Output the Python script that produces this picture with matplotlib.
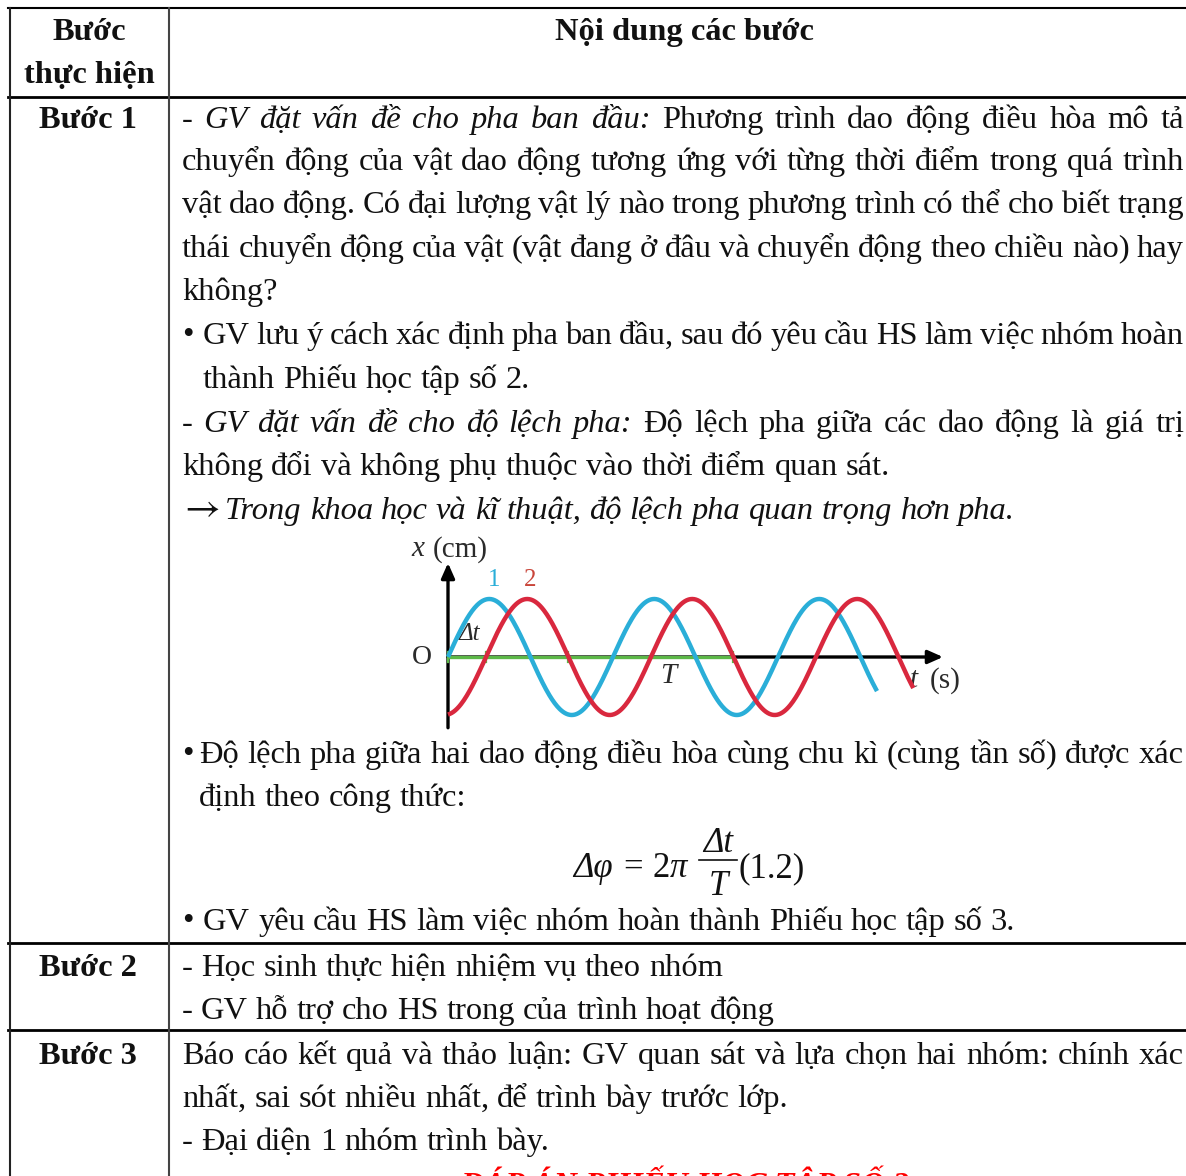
"""Lesson-plan table page (Vietnamese) with the phase-shift sketch, redrawn."""

import matplotlib

matplotlib.use("Agg")
import matplotlib.pyplot as plt
import numpy as np
from matplotlib.font_manager import FontProperties

W, H = 1186, 1176
FS = 23.4
SERIF = ["Liberation Serif", "DejaVu Serif"]
INK = "#111111"

# ---- table text ---------------------------------------------------------
HEADER_LEFT = ["Bước", "thực hiện"]
HEADER_RIGHT = "Nội dung các bước"
STEPS = ["Bước 1", "Bước 2", "Bước 3"]

# each line: list of (text, style) ; style n=normal, i=italic, a=arrow glyph
ROW1_TEXT = [
    [("- GV đặt vấn đề cho pha ban đầu:", "i"), ("Phương trình dao động điều hòa mô tả", "n")],
    [("chuyển động của vật dao động tương ứng với từng thời điểm trong quá trình", "n")],
    [("vật dao động. Có đại lượng vật lý nào trong phương trình có thể cho biết trạng", "n")],
    [("thái chuyển động của vật (vật đang ở đâu và chuyển động theo chiều nào) hay", "n")],
    [("không?", "n")],
    [("GV lưu ý cách xác định pha ban đầu, sau đó yêu cầu HS làm việc nhóm hoàn", "n")],
    [("thành Phiếu học tập số 2.", "n")],
    [("- GV đặt vấn đề cho độ lệch pha:", "i"), ("Độ lệch pha giữa các dao động là giá trị", "n")],
    [("không đổi và không phụ thuộc vào thời điểm quan sát.", "n")],
    [("Trong khoa học và kĩ thuật, độ lệch pha quan trọng hơn pha.", "i")],
    [("Độ lệch pha giữa hai dao động điều hòa cùng chu kì (cùng tần số) được xác", "n")],
    [("định theo công thức:", "n")],
    [("GV yêu cầu HS làm việc nhóm hoàn thành Phiếu học tập số 3.", "n")],
]
ROW2_TEXT = [
    [("- Học sinh thực hiện nhiệm vụ theo nhóm", "n")],
    [("- GV hỗ trợ cho HS trong của trình hoạt động", "n")],
]
ROW3_TEXT = [
    [("Báo cáo kết quả và thảo luận: GV quan sát và lựa chọn hai nhóm: chính xác", "n")],
    [("nhất, sai sót nhiều nhất, để trình bày trước lớp.", "n")],
    [("- Đại diện 1 nhóm trình bày.", "n")],
]
ANSWER_TITLE = "ĐÁP ÁN PHIẾU HỌC TẬP SỐ 2"

# layout per line: (left x, baseline y, justified, bullet)
ROW1_LAYOUT = [
    (182, 128, True, False), (182, 170, True, False), (182, 213, True, False),
    (182, 257, True, False), (182, 300, False, False), (203, 344, True, True),
    (203, 388, False, False), (182, 432, True, False), (182, 475, False, False),
    (225, 519, False, False), (199, 763, True, True), (199, 806, False, False),
    (203, 930, False, True),
]
ROW2_LAYOUT = [(182, 976, False, False), (182, 1019, False, False)]
ROW3_LAYOUT = [(182, 1064, True, False), (182, 1107, False, False), (182, 1150, False, False)]

# ---- oscillation sketch (units: period T on t, amplitude on x) ----------
PERIOD = 1.0
LAG = 0.23            # delay of curve 2 behind curve 1
AMPLITUDE = 1.0
T_END = [2.60, 2.82]  # where curve 1 and curve 2 stop
CURVE_LABELS = ["1", "2"]
CURVE_COLORS = ["#2aaed8", "#d9283e"]
GREEN_MARKS = [0.0, LAG, LAG + 0.5, LAG + 1.5]

fig = plt.figure(figsize=(W / 100, H / 100), dpi=100)
ax = fig.add_axes([0, 0, 1, 1])
ax.set_xlim(0, W)
ax.set_ylim(H, 0)
ax.axis("off")
renderer = fig.canvas.get_renderer()


def fp(style, size=FS):
    return FontProperties(family=SERIF, size=size,
                          style="italic" if "i" in style else "normal",
                          weight="bold" if "b" in style else "normal")


def width(s, style, size=FS):
    return renderer.get_text_width_height_descent(s, fp(style, size), ismath=False)[0]


def put_line(x0, y, segs, justify, x1=1184):
    words = [(w, st) for txt, st in segs for w in txt.split()]
    wd = [width(w, st) for w, st in words]
    if justify and len(words) > 1:
        gap = (x1 - x0 - sum(wd)) / (len(words) - 1)
    else:
        gap = width("a a", "n") - width("aa", "n")
    x = x0
    for (w, st), d in zip(words, wd):
        ax.text(x, y, w, fontproperties=fp(st), color=INK, va="baseline", ha="left")
        x += d + gap


# grid lines
lw = 1.5
ax.plot([8, W], [8, 8], color="black", lw=lw)
for yy in (97, 943, 1030):
    ax.plot([8, W], [yy, yy], color="black", lw=lw + 0.5)
ax.plot([9.5, 9.5], [8, H], color="#222222", lw=lw)
ax.plot([168.5, 168.5], [8, H], color="#444444", lw=lw)

# header
for txt, y in zip(HEADER_LEFT, (40, 83)):
    ax.text(89, y, txt, fontproperties=fp("b"), ha="center", va="baseline", color=INK)
ax.text(684, 40, HEADER_RIGHT, fontproperties=fp("b"), ha="center", va="baseline", color=INK)
for txt, y in zip(STEPS, (128, 976, 1064)):
    ax.text(88, y, txt, fontproperties=fp("b"), ha="center", va="baseline", color=INK)

for texts, layout in ((ROW1_TEXT, ROW1_LAYOUT), (ROW2_TEXT, ROW2_LAYOUT), (ROW3_TEXT, ROW3_LAYOUT)):
    for segs, (x0, y, just, bullet) in zip(texts, layout):
        if bullet:
            ax.text(188, y - 1, "•", fontproperties=fp("n"), ha="center", va="baseline", color=INK)
        put_line(x0, y, segs, just)

# arrow glyph before the italic remark
ax.text(184, 519, "→", family=["STIXGeneral", "DejaVu Serif"], fontsize=28,
        va="baseline", ha="left", color=INK)

# formula  Δφ = 2π Δt/T (1.2)
FF = 25
fy = 877
ax.text(573, fy, "Δφ", fontproperties=fp("i", FF), va="baseline", color=INK)
ax.text(633, fy, "=", fontproperties=fp("n", FF), va="baseline", ha="center", color=INK)
ax.text(653, fy, "2", fontproperties=fp("n", FF), va="baseline", color=INK)
ax.text(653 + width("2", "n", FF), fy, "π", fontproperties=fp("i", FF), va="baseline", color=INK)
ax.text(718, 852, "Δt", fontproperties=fp("i", FF), va="baseline", ha="center", color=INK)
ax.plot([699, 737], [860, 860], color=INK, lw=1.2)
ax.text(718, 895, "T", fontproperties=fp("i", FF), va="baseline", ha="center", color=INK)
ax.text(738, fy, "(1.2)", fontproperties=fp("n", FF), va="baseline", color=INK)

# red answer title, cut by the page edge
ax.text(685, 1194, ANSWER_TITLE, fontproperties=fp("bi"), ha="center", va="baseline", color="#ff0000")

# ---- the sketch ----------------------------------------------------------
x0_px, x1_px, y0_px, y1_px = 395, 975, 535, 728
ox, oy, tpx, apx = 448, 657, 165, 58
sk = fig.add_axes([x0_px / W, 1 - y1_px / H, (x1_px - x0_px) / W, (y1_px - y0_px) / H])
sk.set_xlim((x0_px - ox) / tpx, (x1_px - ox) / tpx)
sk.set_ylim(-(y1_px - oy) / apx, (oy - y0_px) / apx)
sk.axis("off")

arrow = dict(arrowstyle="-|>,head_length=0.9,head_width=0.4", color="black", lw=2.4,
             shrinkA=0, shrinkB=0)
sk.annotate("", xy=(0, 1.62), xytext=(0, -1.22), arrowprops=arrow, zorder=2)
sk.annotate("", xy=(3.0, 0), xytext=(0, 0), arrowprops=arrow, zorder=2)
sk.plot([0, GREEN_MARKS[-1]], [0, 0], color="#5cb848", lw=2.4, zorder=3, solid_capstyle="butt")
for m in GREEN_MARKS:
    sk.plot([m, m], [-0.08, 0.08], color="#5cb848", lw=1.6, zorder=3)

for i, (end, col) in enumerate(zip(T_END, CURVE_COLORS)):
    t = np.linspace(0, end, 500)
    x = AMPLITUDE * np.sin(2 * np.pi * (t - i * LAG) / PERIOD)
    sk.plot(t, x, color=col, lw=3.2, zorder=4, solid_capstyle="butt")

LBL = "#2b2b2b"
sk.text(0.28, 1.32, CURVE_LABELS[0], color=CURVE_COLORS[0], fontproperties=fp("n", 18), ha="center", va="center")
sk.text(0.50, 1.32, CURVE_LABELS[1], color="#c9453a", fontproperties=fp("n", 18), ha="center", va="center")
sk.text(-0.225, 1.86, "x", fontproperties=fp("i", 21), va="center", color=LBL)
sk.text(-0.09, 1.86, "(cm)", fontproperties=fp("n", 21), va="center", color=LBL)
sk.text(-0.158, 0.0, "O", fontproperties=fp("n", 20), va="center", ha="center", color=LBL)
sk.text(0.13, 0.40, "Δt", fontproperties=fp("i", 18), va="center", ha="center", color=LBL)
sk.text(1.333, -0.33, "T", fontproperties=fp("i", 21), va="center", ha="center", color=LBL)
sk.text(2.80, -0.40, "t", fontproperties=fp("i", 21), va="center", color=LBL)
sk.text(2.92, -0.40, "(s)", fontproperties=fp("n", 21), va="center", color=LBL)

fig.savefig("out.png", dpi=100)
